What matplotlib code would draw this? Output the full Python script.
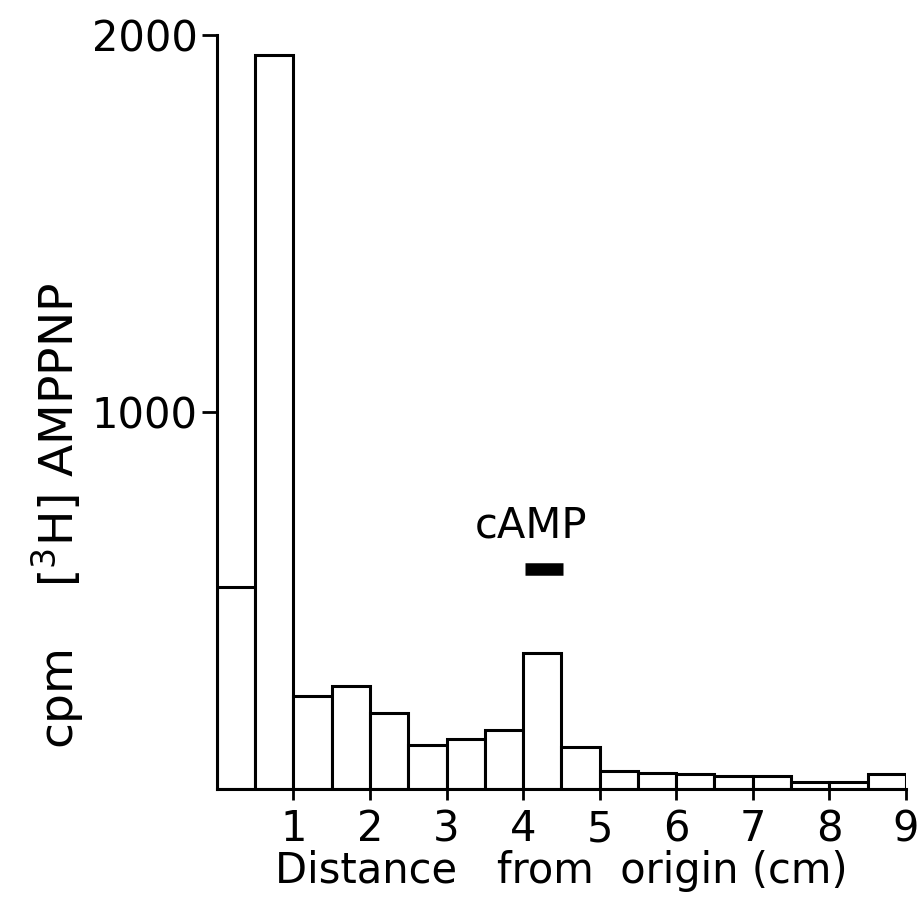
import numpy as np
import matplotlib.pyplot as plt

# counts per 0.5 cm slice of the chromatogram
edges = np.arange(0, 9.5, 0.5)
counts = [536, 1947, 247, 273, 202, 117, 133, 156, 361, 111,
          48, 42, 40, 34, 34, 19, 18, 40]
x_ticks = [1, 2, 3, 4, 5, 6, 7, 8, 9]
y_ticks = [1000, 2000]
camp_span = (4.02, 4.52)
camp_level = 584

plt.rcParams['font.family'] = ['DejaVu Sans']
fs = 30

fig = plt.figure(figsize=(9.19, 9.10), dpi=100)
ax = fig.add_axes([0.236, 0.133, 0.7497, 0.8286])

ax.bar(edges[:-1], counts, width=0.5, align='edge', facecolor='white',
       edgecolor='black', linewidth=2.2)

# marker showing where the cAMP standard runs
ax.plot(camp_span, [camp_level, camp_level], color='black', linewidth=9,
        solid_capstyle='butt')
ax.text(4.1, camp_level + 60, 'cAMP', ha='center', va='bottom', fontsize=fs)

ax.set_xlim(0, 9)
ax.set_ylim(0, 2000)
ax.set_xticks(x_ticks)
ax.set_yticks(y_ticks)
ax.tick_params(axis='x', length=8, width=2, pad=6, labelsize=fs)
ax.tick_params(axis='y', length=11, width=2, pad=3, labelsize=fs)
for s in ['top', 'right']:
    ax.spines[s].set_visible(False)
for s in ['left', 'bottom']:
    ax.spines[s].set_linewidth(2.2)

ax.set_xlabel('Distance   from  origin (cm)', fontsize=fs, labelpad=0)
ax.set_ylabel('cpm    [$\\mathregular{^3}$H] AMPPNP', fontsize=34)
ax.yaxis.set_label_coords(-0.19, 0.362)

fig.savefig('out.png', dpi=100)
